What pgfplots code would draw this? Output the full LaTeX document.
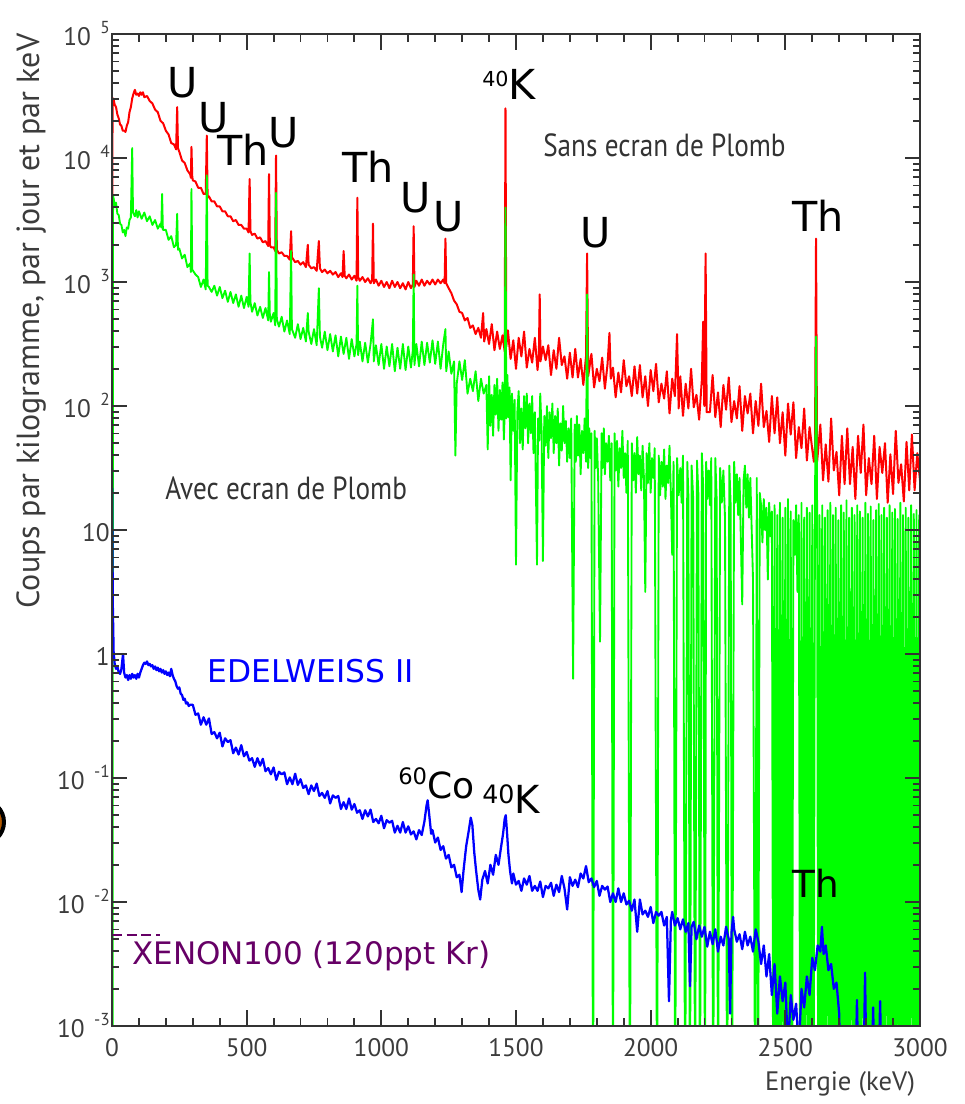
\documentclass[border=0pt]{standalone}
\usepackage{fontspec}
\setmainfont{DejaVu Sans}
\newfontfamily\pts{PT Sans}
\newfontfamily\ptsn[FakeStretch=0.85]{PT Sans}
\usepackage{pgfplots}
\usepackage{pgfplotstable}
\pgfplotsset{compat=1.18}
\definecolor{specred}{RGB}{255,0,0}
\definecolor{specgreen}{RGB}{0,255,0}
\definecolor{specblue}{RGB}{0,0,255}
\definecolor{xenon}{RGB}{102,0,102}
\definecolor{axgray}{RGB}{60,60,60}
\newcommand{\expl}[1]{10\hspace{7pt}\raisebox{9pt}{\fontsize{13pt}{13pt}\selectfont #1}}
\newcommand{\annot}{\fontsize{31pt}{31pt}\selectfont}
% tick positions along the frame (pt from the lower-left corner) / tick length (pt)
\def\xticklist{0/12,20.2/6,40.4/6,60.6/6,80.8/6,101/12,121.2/6,141.4/6,161.6/6,181.8/6,202/12,222.2/6,242.4/6,262.6/6,282.8/6,303/12,323.2/6,343.4/6,363.6/6,383.8/6,404/12,424.2/6,444.4/6,464.6/6,484.8/6,505/12,525.2/6,545.4/6,565.6/6,585.8/6,606/12}
\def\yticklist{0/10,28/5,44.37/5,55.99/5,65/5,72.37/5,78.59/5,83.99/5,88.75/5,93/10,121/5,137.37/5,148.99/5,158/5,165.37/5,171.59/5,176.99/5,181.75/5,186/10,214/5,230.37/5,241.99/5,251/5,258.37/5,264.59/5,269.99/5,274.75/5,279/10,307/5,323.37/5,334.99/5,344/5,351.37/5,357.59/5,362.99/5,367.75/5,372/10,400/5,416.37/5,427.99/5,437/5,444.37/5,450.59/5,455.99/5,460.75/5,465/10,493/5,509.37/5,520.99/5,530/5,537.37/5,543.59/5,548.99/5,553.75/5,558/10,586/5,602.37/5,613.99/5,623/5,630.37/5,636.59/5,641.99/5,646.75/5,651/10,679/5,695.37/5,706.99/5,716/5,723.37/5,729.59/5,734.99/5,739.75/5,744/10}

% x = energy (keV), L = log10(counts / kg / day / keV)
\pgfplotstableread{
x L
0 1.50
2 4.40
5 4.48
10 4.43
15 4.41
20 4.35
25 4.32
30 4.27
35 4.26
40 4.22
45 4.22
50 4.21
55 4.26
60 4.29
65 4.37
70 4.41
75 4.48
80 4.52
85 4.55
90 4.51
95 4.52
100 4.50
105 4.53
110 4.51
115 4.53
120 4.49
130 4.50
140 4.46
150 4.44
160 4.39
170 4.37
180 4.30
190 4.28
200 4.22
210 4.19
220 4.12
230 4.11
238 4.07
242 4.41
245 4.08
250 4.05
260 3.98
270 3.96
280 3.90
290 3.87
293 3.84
295 4.09
298 3.85
300 3.82
310 3.81
320 3.76
330 3.76
340 3.71
348 3.71
352 4.18
355 3.68
360 3.69
370 3.65
380 3.65
390 3.61
400 3.61
410 3.57
420 3.57
430 3.53
440 3.53
450 3.49
460 3.50
470 3.46
480 3.46
490 3.43
500 3.43
507 3.40
511 3.83
514 3.41
520 3.38
530 3.39
540 3.35
550 3.36
560 3.32
570 3.33
580 3.29
583 3.87
586 3.30
590 3.28
600 3.28
606 3.25
609 4.02
612 3.26
620 3.23
630 3.24
640 3.21
650 3.21
660 3.18
665 3.41
668 3.20
680 3.16
690 3.17
700 3.14
710 3.16
720 3.12
727 3.30
730 3.14
740 3.11
750 3.12
760 3.09
768 3.33
772 3.11
780 3.08
790 3.10
800 3.07
810 3.09
820 3.06
830 3.08
840 3.04
850 3.07
856 3.04
860 3.25
864 3.05
870 3.03
880 3.06
890 3.02
900 3.05
908 3.01
911 3.68
914 3.04
920 3.01
930 3.04
940 3.00
950 3.03
960 2.99
966 3.02
969 3.47
972 2.99
980 3.02
990 2.97
1000 3.01
1010 2.96
1020 3.00
1030 2.95
1040 3.01
1050 2.96
1060 3.00
1070 2.95
1080 2.99
1090 2.94
1100 3.00
1110 2.95
1117 2.98
1120 3.45
1123 2.96
1130 3.01
1140 2.97
1150 3.02
1160 2.97
1170 3.01
1180 2.98
1190 3.02
1200 2.98
1210 3.02
1220 2.99
1230 3.02
1235 2.99
1238 3.35
1241 2.99
1250 2.95
1260 2.91
1270 2.85
1280 2.82
1290 2.76
1300 2.75
1310 2.69
1320 2.71
1330 2.63
1340 2.65
1350 2.58
1360 2.63
1370 2.55
1378 2.75
1382 2.52
1390 2.62
1400 2.50
1410 2.66
1420 2.45
1430 2.60
1440 2.46
1450 2.57
1458 2.44
1461 4.40
1464 2.48
1470 2.61
1480 2.38
1490 2.53
1500 2.30
1510 2.55
1520 2.40
1530 2.60
1540 2.31
1550 2.46
1560 2.35
1570 2.55
1580 2.29
1585 2.42
1588 2.90
1591 2.36
1600 2.48
1610 2.37
1620 2.49
1630 2.25
1640 2.45
1650 2.30
1660 2.55
1670 2.33
1680 2.40
1690 2.22
1700 2.43
1710 2.23
1720 2.46
1730 2.23
1740 2.38
1750 2.17
1760 2.40
1764 3.23
1768 2.24
1780 2.42
1790 2.15
1800 2.30
1810 2.20
1820 2.39
1830 2.14
1840 2.34
1847 2.59
1852 2.22
1860 2.31
1870 2.07
1880 2.27
1890 2.11
1900 2.37
1910 2.16
1920 2.24
1930 2.08
1940 2.32
1950 2.10
1960 2.33
1970 2.07
1980 2.24
1990 2.00
2000 2.29
2010 2.12
2020 2.34
2030 2.03
2040 2.18
2050 2.06
2060 2.28
2070 1.94
2080 2.22
2090 2.08
2098 2.58
2104 1.98
2110 2.24
2120 1.92
2130 2.18
2140 1.98
2150 2.30
2160 1.99
2170 2.09
2180 1.89
2190 2.21
2195 2.68
2199 2.00
2204 3.23
2208 1.95
2220 1.95
2230 2.25
2240 1.91
2250 2.11
2260 1.83
2270 2.17
2280 1.97
2290 2.23
2300 1.87
2310 2.04
2320 1.90
2330 2.16
2340 1.80
2350 2.08
2360 1.94
2370 2.10
2380 1.78
2390 2.04
2400 1.84
2410 2.18
2420 1.83
2430 1.96
2440 1.71
2450 2.08
2460 1.78
2470 2.07
2480 1.70
2490 1.95
2500 1.60
2510 2.02
2520 1.77
2530 2.03
2540 1.58
2550 1.83
2560 1.66
2570 1.98
2580 1.56
2590 1.83
2600 1.65
2606 1.55
2610 1.60
2614 3.35
2618 1.55
2630 1.85
2640 1.40
2650 1.69
2660 1.39
2670 1.90
2680 1.48
2690 1.63
2700 1.28
2710 1.76
2720 1.37
2730 1.82
2740 1.37
2750 1.67
2760 1.25
2770 1.76
2780 1.46
2790 1.85
2800 1.28
2810 1.58
2820 1.37
2830 1.76
2840 1.25
2850 1.67
2860 1.46
2870 1.70
2880 1.22
2890 1.61
2900 1.29
2910 1.80
2920 1.38
2930 1.53
2940 1.23
2950 1.71
2960 1.32
2970 1.77
2980 1.32
2990 1.62
3000 1.40
}\redtab

\pgfplotstableread{
x L
2 -4
4 3.70
10 3.62
15 3.64
20 3.55
25 3.54
30 3.47
35 3.46
40 3.40
45 3.42
50 3.37
55 3.44
60 3.43
65 3.50
70 3.52
75 4.08
78 3.56
85 3.53
90 3.58
95 3.52
100 3.57
110 3.51
120 3.56
130 3.49
140 3.53
150 3.46
160 3.50
170 3.43
180 3.47
183 3.44
186 3.71
189 3.42
200 3.42
210 3.34
220 3.37
230 3.28
238 3.30
242 3.55
245 3.26
250 3.27
260 3.19
270 3.22
280 3.12
290 3.15
293 3.08
295 3.75
298 3.10
310 3.06
320 3.04
330 2.96
340 3.02
348 2.94
352 3.86
355 2.97
360 2.96
370 2.92
380 2.97
390 2.89
400 2.96
410 2.87
420 2.93
430 2.84
440 2.92
450 2.83
460 2.90
470 2.80
480 2.89
490 2.79
500 2.88
507 2.80
511 3.23
514 2.84
520 2.76
530 2.83
540 2.73
550 2.80
560 2.71
570 2.79
580 2.69
583 3.08
586 2.74
590 2.68
600 2.75
606 2.65
609 3.72
612 2.70
620 2.64
630 2.72
640 2.60
650 2.69
660 2.58
665 3.25
668 2.62
680 2.55
690 2.66
700 2.54
710 2.63
720 2.52
727 2.75
730 2.60
740 2.50
750 2.62
760 2.49
768 2.95
772 2.56
780 2.47
790 2.60
800 2.45
810 2.58
820 2.44
830 2.57
840 2.40
850 2.56
860 2.42
870 2.55
880 2.38
890 2.54
900 2.40
908 2.50
911 2.97
914 2.41
920 2.52
930 2.36
940 2.51
950 2.35
960 2.50
969 2.70
972 2.36
980 2.49
990 2.33
1000 2.50
1010 2.30
1020 2.48
1030 2.32
1040 2.50
1050 2.28
1060 2.47
1070 2.30
1080 2.50
1090 2.29
1100 2.48
1110 2.31
1117 2.45
1120 3.06
1123 2.33
1130 2.50
1140 2.32
1150 2.52
1160 2.33
1170 2.51
1180 2.35
1190 2.53
1200 2.34
1210 2.52
1220 2.30
1230 2.50
1238 2.62
1241 2.28
1250 2.44
1260 2.26
1270 2.36
1275 1.60
1280 2.18
1290 2.36
1300 2.21
1310 2.37
1320 2.10
1330 2.22
1340 2.12
1350 2.28
1360 2.04
1370 2.22
1380 2.10
1390 2.17
1395 1.65
1400 2.24
1405 1.84
1410 2.09
1415 1.76
1420 2.17
1425 1.93
1430 2.22
1435 1.80
1440 2.13
1445 1.89
1450 2.19
1455 1.73
1458 1.95
1461 3.60
1464 1.90
1468 2.25
1472 1.91
1476 2.15
1480 1.40
1485 2.10
1490 1.80
1495 2.05
1500 0.72
1505 1.95
1510 2.12
1515 1.70
1520 1.98
1525 1.65
1530 2.08
1535 1.82
1540 2.10
1545 1.70
1550 2.02
1555 1.78
1560 2.08
1565 1.62
1570 1.95
1578 0.72
1582 1.90
1586 1.72
1590 2.10
1595 1.80
1600 0.75
1605 1.92
1610 1.68
1615 2.00
1620 1.58
1625 1.95
1630 1.74
1635 2.02
1640 1.62
1645 1.92
1650 1.70
1655 1.98
1660 1.52
1665 1.86
1670 1.64
1675 2.00
1680 1.70
1685 1.88
1690 1.55
1695 1.82
1700 1.58
1705 1.90
1712 -0.20
1718 1.85
1722 1.55
1726 1.92
1730 1.60
1735 1.85
1740 1.45
1745 1.80
1750 1.62
1755 1.90
1760 1.55
1764 2.90
1768 1.50
1772 1.82
1776 1.58
1780 1.78
1786 -4
1792 1.80
1796 1.50
1800 1.74
1805 1.42
1812 0.10
1818 1.78
1822 1.50
1826 1.82
1830 1.45
1835 1.70
1840 1.55
1845 1.76
1850 1.40
1855 1.70
1860 -4
1866 1.78
1870 1.48
1875 1.72
1880 1.35
1885 1.66
1890 1.50
1895 1.80
1900 1.42
1905 1.62
1910 1.30
1915 1.72
1923 -4
1930 1.70
1935 1.40
1940 1.62
1945 1.30
1950 1.75
1955 1.45
1960 1.60
1965 1.32
1970 1.68
1975 1.42
1980 0.50
1985 1.62
1990 1.38
1995 1.70
2000 1.30
2005 1.58
2010 1.42
2015 1.66
2024 -4
2030 1.60
2035 1.28
2040 1.55
2045 1.35
2050 1.65
2055 1.25
2060 1.52
2065 1.38
2070 1.68
2075 1.30
2080 0.80
2085 1.55
2091 -4
2098 1.58
2104 1.28
2110 1.50
2115 1.22
2120 1.60
2128 -4
2136 1.55
2140 1.28
2146 -4
2152 1.52
2158 1.25
2165 -4
2172 1.56
2177 1.30
2183 -4
2190 1.62
2195 1.35
2202 -4
2206 1.55
2210 1.25
2215 1.48
2220 1.20
2225 1.58
2232 -4
2240 1.58
2245 1.25
2250 -4
2258 1.50
2264 1.22
2270 1.48
2276 1.10
2284 -4
2292 1.52
2297 1.20
2302 -4
2310 1.55
2315 1.22
2320 1.45
2325 1.12
2330 1.42
2340 0.40
2345 1.40
2350 1.52
2355 1.18
2360 1.45
2365 1.10
2370 1.42
2380 0.60
2388 -4
2394 1.42
2399 -4
2405 1.30
2410 1.20
2415 0.90
2420 1.25
2425 1.00
2430 1.18
2435 0.60
2440 1.22
2445 0.95
2450 1.15
2455 -4
2460 1.20
2465 -4
2470 1.12
2475 -4
2480 1.22
2485 -4
2490 1.10
2495 -4
2500 1.18
2505 -4
2510 1.25
2515 -4
2520 1.15
2525 -4
2530 1.08
2535 0.80
2540 1.20
2545 0.50
2550 1.12
2555 -4
2560 1.22
2565 -4
2570 1.10
2575 -4
2580 1.18
2585 -4
2590 1.14
2595 -4
2600 1.20
2605 -4
2610 1.15
2614 2.56
2618 1.18
2622 -4
2627 1.12
2632 -4
2637 1.20
2642 -4
2647 1.10
2652 -4
2657 1.16
2662 -4
2667 1.22
2672 -4
2677 1.12
2682 -4
2687 1.18
2692 -4
2697 1.08
2702 -4
2707 1.20
2712 -4
2717 1.14
2722 -4
2727 1.24
2732 -4
2737 1.10
2742 -4
2747 1.18
2752 -4
2757 1.12
2762 -4
2767 1.20
2772 -4
2777 1.15
2782 -4
2787 1.10
2792 -4
2797 1.22
2802 -4
2807 1.13
2812 -4
2817 1.19
2822 -4
2827 1.08
2832 -4
2837 1.16
2842 -4
2847 1.21
2852 -4
2857 1.12
2862 -4
2867 1.18
2872 -4
2877 1.10
2882 -4
2887 1.20
2892 -4
2897 1.14
2902 -4
2907 1.17
2912 -4
2917 1.09
2922 -4
2927 1.22
2932 -4
2937 1.12
2942 -4
2947 1.18
2952 -4
2957 1.10
2962 -4
2967 1.20
2972 -4
2977 1.13
2982 -4
2987 1.16
2992 -4
2997 1.12
3000 -4
}\greentab

\pgfplotstableread{
x L
0 1.50
3 0.40
6 0.02
10 -0.08
15 -0.12
20 -0.10
25 -0.15
30 -0.16
35 -0.12
41 0.00
45 -0.15
50 -0.19
55 -0.17
60 -0.21
65 -0.17
70 -0.20
75 -0.16
80 -0.19
85 -0.17
90 -0.20
95 -0.16
100 -0.19
105 -0.15
110 -0.12
115 -0.09
120 -0.07
125 -0.08
130 -0.06
135 -0.09
140 -0.08
145 -0.10
150 -0.09
155 -0.12
160 -0.10
165 -0.13
170 -0.11
175 -0.14
180 -0.12
185 -0.15
190 -0.13
195 -0.16
200 -0.14
205 -0.17
210 -0.15
215 -0.18
220 -0.12
225 -0.17
230 -0.20
235 -0.22
240 -0.26
245 -0.28
250 -0.27
255 -0.32
260 -0.33
265 -0.37
270 -0.36
275 -0.40
280 -0.39
285 -0.42
290 -0.41
300 -0.41
310 -0.49
320 -0.48
330 -0.57
340 -0.51
350 -0.57
360 -0.52
370 -0.645
380 -0.63
390 -0.68
400 -0.635
410 -0.745
420 -0.68
430 -0.71
440 -0.695
450 -0.80
460 -0.755
470 -0.81
480 -0.735
490 -0.825
500 -0.79
510 -0.86
520 -0.84
530 -0.91
540 -0.84
550 -0.90
560 -0.845
570 -0.945
580 -0.92
590 -0.97
600 -0.915
610 -1.015
620 -0.95
630 -0.97
640 -0.955
650 -1.05
660 -0.995
670 -1.05
680 -0.965
690 -1.055
700 -1.01
710 -1.08
720 -1.06
730 -1.13
740 -1.06
750 -1.105
760 -1.045
770 -1.145
780 -1.12
790 -1.16
800 -1.105
810 -1.205
820 -1.14
830 -1.16
840 -1.145
850 -1.25
860 -1.195
870 -1.25
880 -1.165
890 -1.255
900 -1.21
910 -1.28
920 -1.26
930 -1.33
940 -1.26
950 -1.31
960 -1.255
970 -1.355
980 -1.33
990 -1.365
1000 -1.305
1010 -1.405
1020 -1.34
1030 -1.36
1040 -1.345
1050 -1.44
1060 -1.385
1070 -1.44
1080 -1.355
1090 -1.44
1100 -1.39
1110 -1.455
1120 -1.43
1130 -1.495
1140 -1.42
1150 -1.46
1160 -1.35
1168 -1.22
1172 -1.18
1178 -1.30
1185 -1.45
1190 -1.42
1200 -1.52
1210 -1.48
1220 -1.58
1230 -1.55
1240 -1.65
1250 -1.62
1260 -1.72
1270 -1.70
1280 -1.80
1290 -1.78
1298 -1.92
1305 -1.75
1315 -1.55
1325 -1.42
1332 -1.32
1338 -1.38
1345 -1.60
1352 -1.75
1360 -1.90
1367 -1.98
1375 -1.82
1385 -1.75
1395 -1.85
1405 -1.70
1415 -1.78
1425 -1.62
1435 -1.70
1445 -1.55
1452 -1.45
1458 -1.33
1462 -1.30
1467 -1.45
1472 -1.62
1478 -1.75
1485 -1.85
1490 -1.77
1500 -1.86
1510 -1.83
1520 -1.91
1530 -1.81
1540 -1.86
1550 -1.79
1560 -1.91
1570 -1.87
1580 -1.91
1590 -1.835
1600 -1.96
1610 -1.87
1620 -1.89
1630 -1.845
1640 -1.95
1650 -1.86
1660 -1.92
1670 -1.79
1680 -1.89
1690 -2.06
1700 -1.80
1710 -1.87
1720 -1.82
1730 -1.88
1740 -1.77
1750 -1.81
1760 -1.71
1770 -1.84
1780 -1.81
1790 -1.88
1800 -1.83
1810 -1.95
1820 -1.87
1830 -1.90
1840 -1.875
1850 -2.00
1860 -1.93
1870 -2.00
1880 -1.89
1890 -2.00
1900 -1.93
1910 -2.02
1920 -1.99
1930 -2.07
1940 -1.98
1950 -2.24
1960 -1.98
1970 -2.10
1980 -2.07
1990 -2.12
2000 -2.04
2010 -2.17
2020 -2.08
2030 -2.11
2040 -2.08
2050 -2.19
2060 -2.12
2068 -2.80
2075 -2.15
2080 -2.08
2090 -2.19
2100 -2.13
2110 -2.22
2120 -2.14
2130 -2.24
2140 -2.17
2146 -2.68
2152 -2.20
2160 -2.16
2170 -2.30
2180 -2.19
2190 -2.28
2200 -2.20
2210 -2.36
2220 -2.24
2230 -2.34
2240 -2.22
2250 -2.40
2260 -2.28
2270 -2.35
2280 -2.20
2290 -2.30
2295 -2.90
2300 -2.25
2306 -2.12
2310 -2.22
2320 -2.32
2330 -2.26
2340 -2.38
2350 -2.24
2360 -2.35
2370 -2.28
2380 -2.40
2390 -2.22
2400 -2.32
2410 -2.50
2420 -2.35
2430 -2.60
2440 -2.42
2450 -2.75
2460 -2.50
2470 -2.90
2480 -2.60
2490 -2.80
2500 -2.65
2510 -3.20
2520 -2.75
2530 -2.95
2540 -2.82
2550 -3.20
2560 -2.70
2570 -2.85
2580 -2.60
2590 -2.75
2600 -2.45
2610 -2.55
2620 -2.35
2630 -2.40
2636 -2.20
2642 -2.42
2650 -2.35
2660 -2.55
2670 -2.50
2680 -2.70
2690 -2.65
2700 -2.90
2705 -3.50
2760 -3.50
2766 -2.79
2772 -3.50
2790 -3.50
2796 -2.57
2802 -3.50
2820 -3.50
2826 -2.85
2832 -3.50
2845 -3.50
2852 -2.80
2858 -3.50
}\bluetab

\begin{document}
\begin{tikzpicture}
\begin{axis}[
  scale only axis, width=606pt, height=744pt,
  xmin=0, xmax=3000, ymin=1e-3, ymax=1e5, ymode=log,
  axis line style={black!80, line width=1.6pt},
  xtick={0,500,1000,1500,2000,2500,3000},
  xticklabels={0,500,1000,1500,2000,2500,3000},
  minor x tick num=4,
  ytick={1e-3,1e-2,1e-1,1,10,100,1000,10000,100000},
  minor ytick={2e-3,3e-3,4e-3,5e-3,6e-3,7e-3,8e-3,9e-3,
    2e-2,3e-2,4e-2,5e-2,6e-2,7e-2,8e-2,9e-2,
    0.2,0.3,0.4,0.5,0.6,0.7,0.8,0.9,
    2,3,4,5,6,7,8,9,
    20,30,40,50,60,70,80,90,
    200,300,400,500,600,700,800,900,
    2000,3000,4000,5000,6000,7000,8000,9000,
    20000,30000,40000,50000,60000,70000,80000,90000},
  yticklabels={\expl{-3},\expl{-2},\expl{-1},1\hspace{16.5pt},10\hspace{15pt},\expl{2},\expl{3},\expl{4},\expl{5}},
  tick align=inside,
  xtick pos=both, ytick pos=both,
  major tick length=11pt, minor tick length=5.5pt,
  every tick/.style={black!80, line width=1.4pt},
  axis on top,
  xticklabel style={font=\pts\fontsize{19pt}{19pt}\selectfont, text=axgray, yshift=-6pt},
  yticklabel style={font=\pts\fontsize{19pt}{19pt}\selectfont, text=axgray, anchor=base east, inner sep=0pt, xshift=-1.5pt, yshift=-8.5pt},
  every axis plot/.append style={line join=round},
]
\addplot[specred, line width=1.5pt] table[x=x, y expr=10^(\thisrow{L})] {\redtab};
\addplot[specgreen, line width=1.4pt] table[x=x, y expr=10^(\thisrow{L})] {\greentab};
\addplot[specblue, line width=1.7pt] table[x=x, y expr=10^(\thisrow{L})] {\bluetab};
\addplot[xenon, line width=2pt, dash pattern=on 7.5pt off 3.5pt] coordinates {(0,0.00543) (178,0.00543)};

\coordinate (sw) at (rel axis cs:0,0);
\coordinate (ne) at (rel axis cs:1,1);
\coordinate (ylab) at (rel axis cs:-0.1002,0.7107);
\coordinate (xlab) at (rel axis cs:0.901,-0.0585);
\coordinate (frag) at (rel axis cs:-0.1609,0.2056);
\coordinate (pU1) at (rel axis cs:0.0681,0.9355);
\coordinate (pU2) at (rel axis cs:0.1064,0.9012);
\coordinate (pTh1) at (rel axis cs:0.1300,0.8679);
\coordinate (pU3) at (rel axis cs:0.1931,0.8851);
\coordinate (pTh2) at (rel axis cs:0.2847,0.8508);
\coordinate (pU4) at (rel axis cs:0.3564,0.8196);
\coordinate (pU5) at (rel axis cs:0.3973,0.8004);
\coordinate (pK1) at (rel axis cs:0.4579,0.9335);
\coordinate (pU6) at (rel axis cs:0.5792,0.7843);
\coordinate (pTh3) at (rel axis cs:0.8416,0.8004);
\coordinate (pSans) at (rel axis cs:0.5334,0.8760);
\coordinate (pAvec) at (rel axis cs:0.0656,0.5312);
\coordinate (pEdel) at (rel axis cs:0.1176,0.3458);
\coordinate (pCo) at (rel axis cs:0.3540,0.2298);
\coordinate (pK2) at (rel axis cs:0.4579,0.2147);
\coordinate (pTh4) at (rel axis cs:0.8416,0.1300);
\coordinate (pXe) at (rel axis cs:0.0248,0.0615);
\end{axis}

% frame tick marks as thin filled rectangles
\foreach \ta/\tb in \xticklist {
  \fill[black!80] ([xshift=\ta pt-0.7pt]sw) rectangle ([xshift=\ta pt+0.7pt,yshift=\tb pt]sw);
  \fill[black!80] ([xshift=\ta pt-0.7pt,yshift=744pt]sw) rectangle ([xshift=\ta pt+0.7pt,yshift=744pt-\tb pt]sw);
}
\foreach \ta/\tb in \yticklist {
  \fill[black!80] ([yshift=\ta pt-0.7pt]sw) rectangle ([xshift=\tb pt,yshift=\ta pt+0.7pt]sw);
  \fill[black!80] ([xshift=606pt,yshift=\ta pt-0.7pt]sw) rectangle ([xshift=606pt-\tb pt,yshift=\ta pt+0.7pt]sw);
}

\node[anchor=base west, inner sep=0pt] at (pU1) {\annot U};
\node[anchor=base west, inner sep=0pt] at (pU2) {\annot U};
\node[anchor=base west, inner sep=0pt] at (pTh1) {\annot Th};
\node[anchor=base west, inner sep=0pt] at (pU3) {\annot U};
\node[anchor=base west, inner sep=0pt] at (pTh2) {\annot Th};
\node[anchor=base west, inner sep=0pt] at (pU4) {\annot U};
\node[anchor=base west, inner sep=0pt] at (pU5) {\annot U};
\node[anchor=base west, inner sep=0pt] at (pK1) {\raisebox{10pt}{\fontsize{15.5pt}{15.5pt}\selectfont 40}\annot K};
\node[anchor=base west, inner sep=0pt] at (pU6) {\annot U};
\node[anchor=base west, inner sep=0pt] at (pTh3) {\annot Th};
\node[anchor=base west, inner sep=0pt, text=black!80] at (pSans) {\ptsn\fontsize{24pt}{24pt}\selectfont Sans ecran de Plomb};
\node[anchor=base west, inner sep=0pt, text=black!80] at (pAvec) {\ptsn\fontsize{24pt}{24pt}\selectfont Avec ecran de Plomb};
\node[anchor=base west, inner sep=0pt, text=specblue] at (pEdel) {\fontsize{23.5pt}{23.5pt}\selectfont EDELWEISS II};
\node[anchor=base west, inner sep=0pt] at (pCo) {\raisebox{10pt}{\fontsize{17pt}{17pt}\selectfont 60}\fontsize{27pt}{27pt}\selectfont Co};
\node[anchor=base west, inner sep=0pt] at (pK2) {\raisebox{7.5pt}{\fontsize{19pt}{19pt}\selectfont 40}\fontsize{29pt}{29pt}\selectfont K};
\node[anchor=base west, inner sep=0pt] at (pTh4) {\fontsize{28pt}{28pt}\selectfont Th};
\node[anchor=base west, inner sep=0pt, text=xenon] at (pXe) {\fontsize{23.25pt}{23.25pt}\selectfont XENON100 (120ppt Kr)};
\node[rotate=90, anchor=center, inner sep=0pt, text=axgray] at (ylab) {\pts\fontsize{24pt}{24pt}\selectfont Coups par kilogramme, par jour et par keV};
\node[anchor=center, inner sep=0pt, text=axgray] at (xlab) {\pts\fontsize{20pt}{20pt}\selectfont Energie (keV)};
\draw[line width=3pt, draw=black, fill=orange!70!black] (frag) circle[radius=16.5pt];

\pgfresetboundingbox
\path[use as bounding box] ([xshift=-84pt,yshift=-58.5pt]sw) rectangle ([xshift=33.75pt,yshift=25.5pt]ne);
\end{tikzpicture}
\end{document}
